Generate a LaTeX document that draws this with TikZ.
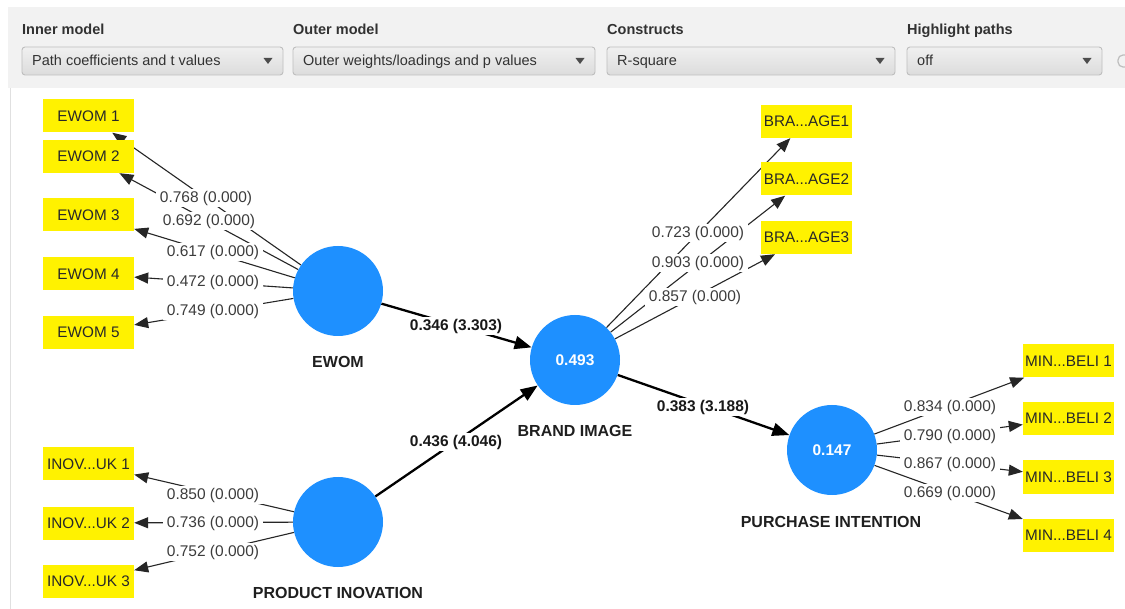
\documentclass[tikz,border=0pt]{standalone}
\usepackage{fontspec}
\setmainfont{Liberation Sans}
\usetikzlibrary{arrows.meta}
\definecolor{plsblue}{RGB}{30,144,255}
\definecolor{ytxt}{RGB}{40,40,40}
\definecolor{lbl}{RGB}{60,60,60}
\definecolor{tbbg}{RGB}{242,242,242}
\definecolor{ddtop}{RGB}{240,240,240}
\definecolor{ddbot}{RGB}{220,220,220}
\definecolor{ddline}{RGB}{190,190,190}
\definecolor{tbtxt}{RGB}{50,50,50}
\pgfdeclarelayer{bgpaper}
\pgfdeclarelayer{edges}
\pgfsetlayers{bgpaper,edges,main}
\tikzset{
  ind/.style={rectangle, fill=yellow, text=ytxt, minimum width=91pt, minimum height=33pt, inner sep=0pt, font=\fontsize{15.3}{18}\selectfont},
  lv/.style={circle, fill=plsblue, minimum size=90pt, inner sep=0pt, text=white, font=\bfseries\fontsize{15.5}{18}\selectfont},
  lvname/.style={text=black!88, inner sep=0pt, font=\bfseries\fontsize{16}{19}\selectfont},
  olbl/.style={fill=white, text=lbl, inner xsep=4pt, inner ysep=1.5pt, font=\fontsize{15.5}{18}\selectfont},
  ilbl/.style={fill=white, text=black!90, inner xsep=4pt, inner ysep=1.5pt, font=\bfseries\fontsize{15.5}{18}\selectfont},
  oedge/.style={draw=black!85, line width=1.1pt, -{Triangle[length=14pt,width=11pt]}},
  iedge/.style={draw=black, line width=2.3pt, -{Triangle[length=17pt,width=13pt]}},
  tblabel/.style={anchor=base west, inner sep=0pt, text=tbtxt, font=\bfseries\fontsize{14.5}{17}\selectfont},
  ddtext/.style={anchor=base west, inner sep=0pt, text=tbtxt, font=\fontsize{14.5}{17}\selectfont},
  ddbox/.style={draw=ddline, line width=0.9pt, rounded corners=3pt, top color=ddtop, bottom color=ddbot},
  ddarrow/.style={fill=black!70},
}
\begin{document}
\begin{tikzpicture}[x=1pt,y=-1pt]
\useasboundingbox (0,0) rectangle (1125,609);
\begin{pgfonlayer}{bgpaper}
\fill[white] (0,0) rectangle (1125,609);
\fill[tbbg] (8,7) rectangle (1125,88);
\draw[black!12, line width=1pt] (10,88) -- (10,609);
\end{pgfonlayer}
% toolbar
\node[tblabel] (tl1) at (22,35) {Inner model};
\node[tblabel] (tl2) at (293,35) {Outer model};
\node[tblabel] (tl3) at (607,35) {Constructs};
\node[tblabel] (tl4) at (907,35) {Highlight paths};
\path[ddbox] (22,47) rectangle (283,75);
\path[ddbox] (293,47) rectangle (595,75);
\path[ddbox] (607,47) rectangle (895,75);
\path[ddbox] (907,47) rectangle (1102,75);
\node[ddtext] (dd1) at (32,66) {Path coefficients and t values};
\node[ddtext] (dd2) at (303,66) {Outer weights/loadings and p values};
\node[ddtext] (dd3) at (617,66) {R-square};
\node[ddtext] (dd4) at (917,66) {off};
\foreach \ax in {268,580,880,1087}{
  \fill[ddarrow] (\ax-4.5,58) -- (\ax+4.5,58) -- (\ax,64) -- cycle;
}
\draw[ddline, line width=1.2pt, rounded corners=5pt] (1118,55) rectangle (1145,67);

% indicators
\node[ind] (e1) at (88.5,116) {EWOM 1};
\node[ind] (e2) at (88.5,156.5) {EWOM 2};
\node[ind] (e3) at (88.5,215) {EWOM 3};
\node[ind] (e4) at (88.5,274) {EWOM 4};
\node[ind] (e5) at (88.5,332.5) {EWOM 5};
\node[ind] (i1) at (88.5,464) {INOV...UK 1};
\node[ind] (i2) at (88.5,523) {INOV...UK 2};
\node[ind] (i3) at (88.5,581) {INOV...UK 3};
\node[ind] (b1) at (806.5,121.5) {BRA...AGE1};
\node[ind] (b2) at (806.5,179) {BRA...AGE2};
\node[ind] (b3) at (806.5,237.5) {BRA...AGE3};
\node[ind] (m1) at (1068.5,361) {MIN...BELI 1};
\node[ind] (m2) at (1068.5,418.5) {MIN...BELI 2};
\node[ind] (m3) at (1068.5,477) {MIN...BELI 3};
\node[ind] (m4) at (1068.5,535.5) {MIN...BELI 4};

% latent variables
\node[lv] (ewom) at (338,291) {};
\node[lv] (pi) at (338,522) {};
\node[lv] (bi) at (575,360) {0.493};
\node[lv] (pur) at (832,450) {0.147};
\node[lvname] (ewomn) at (338,362) {EWOM};
\node[lvname] (pin) at (338,593) {PRODUCT INOVATION};
\node[lvname] (bin) at (575,431) {BRAND IMAGE};
\node[lvname] (purn) at (831,522) {PURCHASE INTENTION};

\begin{pgfonlayer}{edges}
\foreach \t in {e1,e2,e3,e4,e5} \draw[oedge] (ewom) -- (\t);
\foreach \t in {i1,i2,i3} \draw[oedge] (pi) -- (\t);
\foreach \t in {b1,b2,b3} \draw[oedge] (bi) -- (\t);
\foreach \t in {m1,m2,m3,m4} \draw[oedge] (pur) -- (\t);
\draw[iedge] (ewom) -- (bi);
\draw[iedge] (pi) -- (bi);
\draw[iedge] (bi) -- (pur);
\end{pgfonlayer}

% outer labels
\node[olbl] (le1) at (206,198) {0.768 (0.000)};
\node[olbl] (le2) at (209,221) {0.692 (0.000)};
\node[olbl] (le3) at (213,252) {0.617 (0.000)};
\node[olbl] (le4) at (213,282) {0.472 (0.000)};
\node[olbl] (le5) at (213,311) {0.749 (0.000)};
\node[olbl] (li1) at (213,495) {0.850 (0.000)};
\node[olbl] (li2) at (213,523) {0.736 (0.000)};
\node[olbl] (li3) at (213,552) {0.752 (0.000)};
\node[olbl] (lb1) at (698,233) {0.723 (0.000)};
\node[olbl] (lb2) at (698,263) {0.903 (0.000)};
\node[olbl] (lb3) at (695,297) {0.857 (0.000)};
\node[olbl] (lm1) at (950,407) {0.834 (0.000)};
\node[olbl] (lm2) at (950,436) {0.790 (0.000)};
\node[olbl] (lm3) at (950,464) {0.867 (0.000)};
\node[olbl] (lm4) at (950,493) {0.669 (0.000)};
% inner labels
\node[ilbl] (p1) at (456,326) {0.346 (3.303)};
\node[ilbl] (p2) at (456,442) {0.436 (4.046)};
\node[ilbl] (p3) at (703,407) {0.383 (3.188)};
\end{tikzpicture}
\end{document}
